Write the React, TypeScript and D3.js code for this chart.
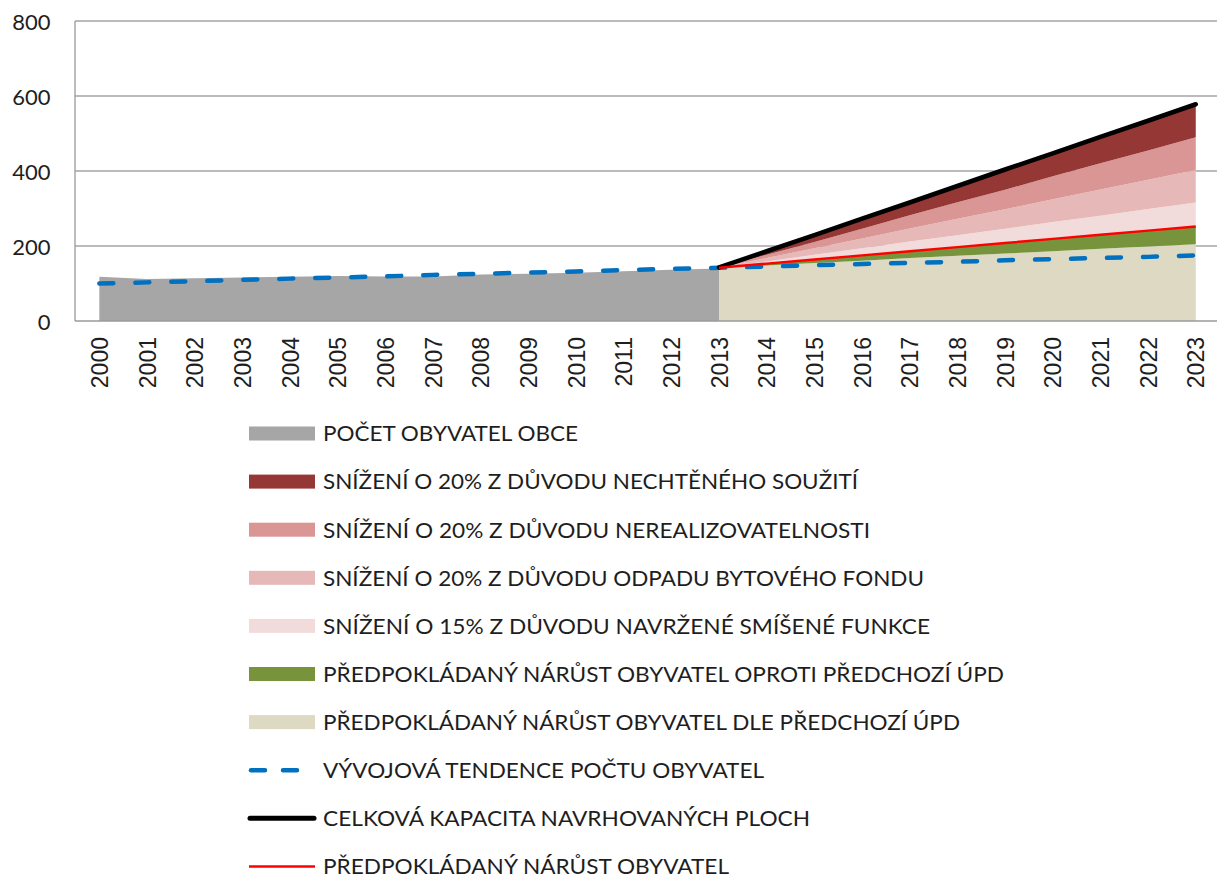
import React from "react";
import * as d3 from "d3";

// categories
const years = [
  "2000", "2001", "2002", "2003", "2004", "2005", "2006", "2007",
  "2008", "2009", "2010", "2011", "2012", "2013", "2014", "2015",
  "2016", "2017", "2018", "2019", "2020", "2021", "2022", "2023",
];
const pastYears = years.slice(0, 14); // 2000 - 2013
const projYears = years.slice(13); // 2013 - 2023

// series values
const population = [118, 112, 114, 116, 118, 120, 119, 119, 124, 126, 129, 133, 137, 140];
const trend = [100, 103, 106, 110, 113, 116, 119, 123, 126, 129, 132, 136, 139, 142, 145, 149, 152, 155, 158, 162, 165, 168, 171, 175];
const basePrev = [142, 148, 155, 161, 168, 174, 180, 186, 193, 199, 205];
const growthExtra = [0, 5, 9, 14, 18, 23, 28, 33, 37, 42, 47];
const cutMixed = [0, 6, 13, 19, 26, 32, 38, 45, 51, 58, 64];
const cutStock = [0, 9, 17, 26, 35, 44, 52, 61, 70, 78, 87];
const cutUnreal = [0, 9, 17, 26, 35, 44, 52, 61, 70, 78, 87];
const cutUnwanted = [0, 8, 17, 25, 34, 42, 50, 59, 67, 76, 84];
const expected = [142, 153, 164, 175, 186, 197, 208, 219, 230, 241, 252];
const capacity = [143, 186, 229, 273, 316, 360, 404, 447, 491, 534, 578];

const yTicks = [0, 200, 400, 600, 800];

const legendLabels = [
  "POČET OBYVATEL OBCE",
  "SNÍŽENÍ O 20% Z DŮVODU NECHTĚNÉHO SOUŽITÍ",
  "SNÍŽENÍ O 20% Z DŮVODU NEREALIZOVATELNOSTI",
  "SNÍŽENÍ O 20% Z DŮVODU ODPADU BYTOVÉHO FONDU",
  "SNÍŽENÍ O 15% Z DŮVODU NAVRŽENÉ SMÍŠENÉ FUNKCE",
  "PŘEDPOKLÁDANÝ NÁRŮST OBYVATEL OPROTI PŘEDCHOZÍ ÚPD",
  "PŘEDPOKLÁDANÝ NÁRŮST OBYVATEL DLE PŘEDCHOZÍ ÚPD",
  "VÝVOJOVÁ TENDENCE POČTU OBYVATEL",
  "CELKOVÁ KAPACITA NAVRHOVANÝCH PLOCH",
  "PŘEDPOKLÁDANÝ NÁRŮST OBYVATEL",
];

const C = {
  gray: "#a6a6a6",
  dark: "#953735",
  med: "#d99694",
  pink: "#e6b9b8",
  light: "#f2dcdb",
  green: "#77933c",
  beige: "#ddd9c3",
  blue: "#0070c0",
  black: "#000000",
  red: "#ff0000",
};

// legend swatch styles and measured text widths
const legendStyle = [
  { kind: "rect", color: C.gray, w: 255 },
  { kind: "rect", color: C.dark, w: 535 },
  { kind: "rect", color: C.med, w: 547 },
  { kind: "rect", color: C.pink, w: 601 },
  { kind: "rect", color: C.light, w: 607 },
  { kind: "rect", color: C.green, w: 681 },
  { kind: "rect", color: C.beige, w: 637 },
  { kind: "dash", color: C.blue, w: 441 },
  { kind: "line", color: C.black, w: 487 },
  { kind: "thin", color: C.red, w: 406 },
];

const W = 1217;
const H = 880;

export default function App() {
  const x = d3.scalePoint<string>().domain(years).range([75.5, 1219.6]).padding(0.5);
  const y = d3.scaleLinear().domain([0, 800]).range([321, 21]);

  const rows = projYears.map((yr, i) => ({
    year: yr,
    basePrev: basePrev[i],
    growthExtra: growthExtra[i],
    cutMixed: cutMixed[i],
    cutStock: cutStock[i],
    cutUnreal: cutUnreal[i],
    cutUnwanted: cutUnwanted[i],
  }));
  const keys = ["basePrev", "growthExtra", "cutMixed", "cutStock", "cutUnreal", "cutUnwanted"];
  const keyColor: Record<string, string> = {
    basePrev: C.beige,
    growthExtra: C.green,
    cutMixed: C.light,
    cutStock: C.pink,
    cutUnreal: C.med,
    cutUnwanted: C.dark,
  };
  const stacked = d3.stack<any>().keys(keys)(rows);

  const stackArea = d3
    .area<any>()
    .x((d) => x(d.data.year)!)
    .y0((d) => y(d[0]))
    .y1((d) => y(d[1]));

  const popArea = d3
    .area<number>()
    .x((_, i) => x(pastYears[i])!)
    .y0(y(0))
    .y1((d) => y(d))(population);

  const trendLine = d3
    .line<number>()
    .x((_, i) => x(years[i])!)
    .y((d) => y(d))(trend);

  const projLine = d3
    .line<number>()
    .x((_, i) => x(projYears[i])!)
    .y((d) => y(d));

  const plotLeft = 75;
  const txt = "#1e1e1e";

  return (
    <svg
      width={W}
      height={H}
      style={{ position: "absolute", left: 0, top: 0, background: "#fff" }}
    >
      {/* gridlines */}
      {yTicks.slice(1).map((t) => (
        <line key={t} x1={plotLeft} x2={W} y1={y(t)} y2={y(t)} stroke="#a5a5a5" strokeWidth={1.3} />
      ))}

      {/* areas */}
      <path d={popArea!} fill={C.gray} />
      {stacked.map((s) => (
        <path key={s.key} d={stackArea(s)!} fill={keyColor[s.key]} />
      ))}

      {/* axes */}
      <line x1={plotLeft} x2={plotLeft} y1={y(800)} y2={y(0)} stroke="#9a9a9a" strokeWidth={1.3} />
      <line x1={plotLeft} x2={W} y1={y(0)} y2={y(0)} stroke="#9a9a9a" strokeWidth={1.3} />

      {/* lines */}
      <path
        d={trendLine!}
        fill="none"
        stroke={C.blue}
        strokeWidth={4.5}
        strokeDasharray="14 22"
        strokeLinecap="round"
      />
      <path d={projLine(capacity)!} fill="none" stroke={C.black} strokeWidth={4.5} strokeLinecap="round" />
      <path d={projLine(expected)!} fill="none" stroke={C.red} strokeWidth={2.5} />

      {/* y tick labels */}
      {yTicks.map((t) => (
        <text
          key={t}
          x={50.5}
          y={y(t) + 8.5}
          textAnchor="end"
          fontFamily="Lato, 'Open Sans', sans-serif"
          fontSize={22}
          fill={txt}
        >
          {t}
        </text>
      ))}

      {/* x tick labels */}
      {years.map((yr) => (
        <text
          key={yr}
          transform={`translate(${x(yr)! + 8.5},337) rotate(-90)`}
          textAnchor="end"
          fontFamily="'Liberation Sans', Arial, sans-serif"
          fontSize={23}
          fill={txt}
        >
          {yr}
        </text>
      ))}

      {/* legend */}
      {legendLabels.map((label, i) => {
        const st = legendStyle[i];
        const cy = 433.5 + i * 48.1;
        return (
          <g key={label}>
            {st.kind === "rect" && <rect x={249} y={cy - 7} width={66} height={14} fill={st.color} />}
            {st.kind === "dash" && (
              <line
                x1={251}
                x2={300}
                y1={cy}
                y2={cy}
                stroke={st.color}
                strokeWidth={4.5}
                strokeDasharray="14 18"
                strokeLinecap="round"
              />
            )}
            {st.kind === "line" && (
              <line x1={250} x2={314} y1={cy} y2={cy} stroke={st.color} strokeWidth={5} strokeLinecap="round" />
            )}
            {st.kind === "thin" && (
              <line x1={249} x2={315} y1={cy} y2={cy} stroke={st.color} strokeWidth={2.5} />
            )}
            <text
              x={323}
              y={cy + 7.8}
              fontFamily="Lato, 'Open Sans', sans-serif"
              fontSize={22}
              fill={txt}
              textLength={st.w}
              lengthAdjust="spacingAndGlyphs"
            >
              {label}
            </text>
          </g>
        );
      })}
    </svg>
  );
}
